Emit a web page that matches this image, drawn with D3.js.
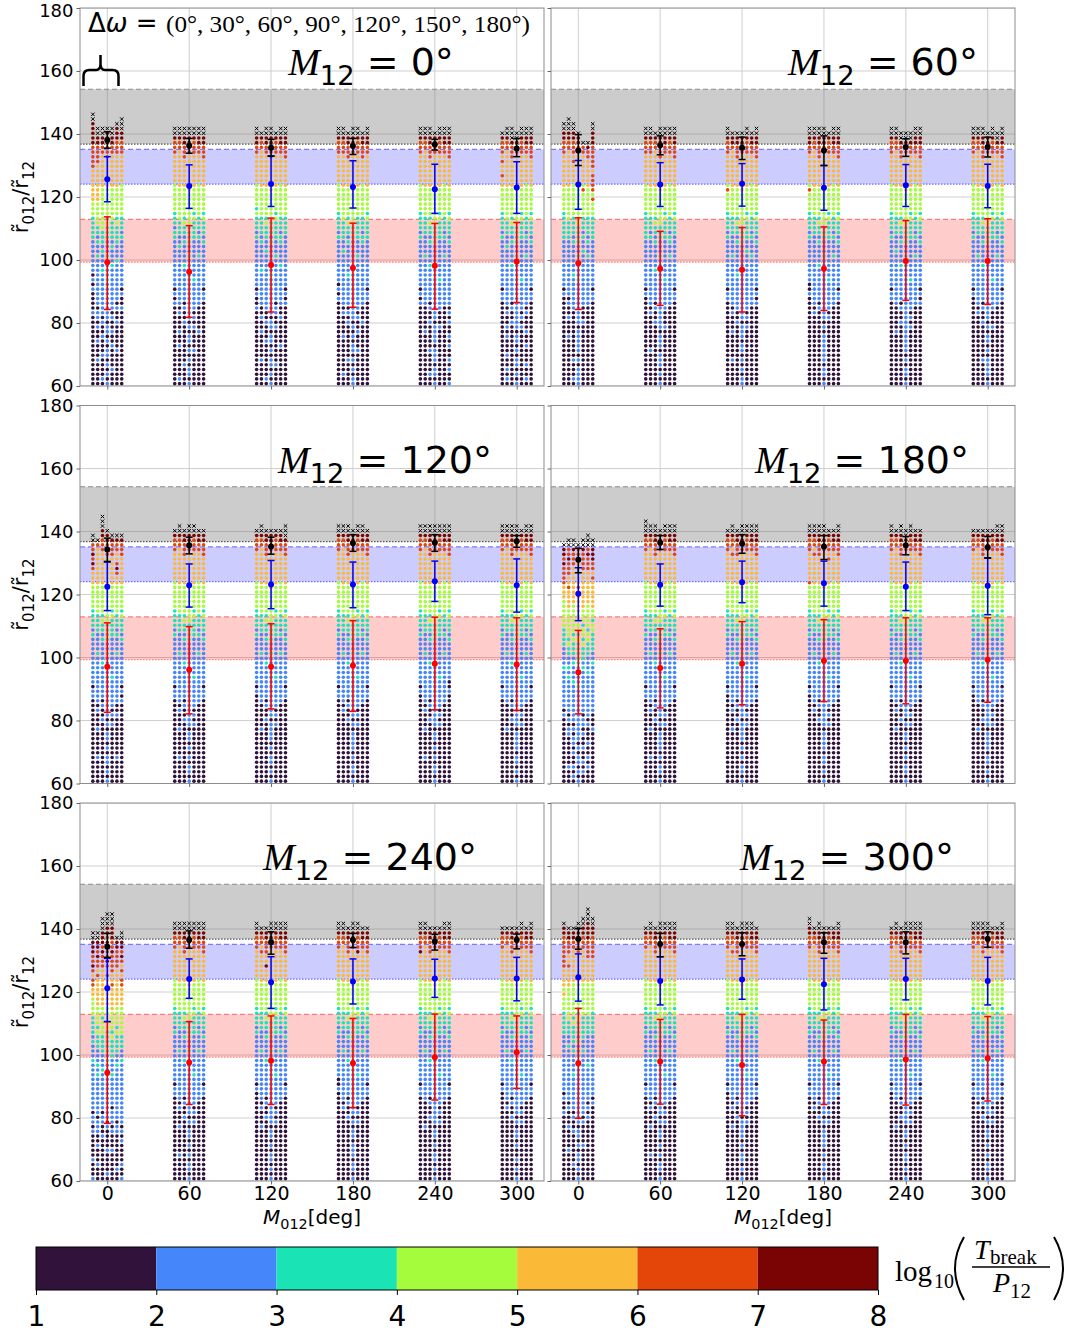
<!DOCTYPE html>
<html><head><meta charset="utf-8">
<script src="https://cdn.jsdelivr.net/npm/d3@7"></script>
<style>body{margin:0;background:#fff}svg{display:block}</style>
</head><body><script>
// ---------------- DATA ----------------
const panelM12 = [0, 60, 120, 180, 240, 300];
const groupM012 = [0, 60, 120, 180, 240, 300];
const deltaOmega = [0, 30, 60, 90, 120, 150, 180];
const yTicks = [60, 80, 100, 120, 140, 160, 180];
const cbTicks = [1, 2, 3, 4, 5, 6, 7, 8];
const rGrid = [60.75,62.25,63.75,65.25,66.75,68.25,69.75,71.25,72.75,74.25,
  75.75,77.25,78.75,80.25,81.75,83.25,84.75,86.25,87.75,89.25,
  90.75,92.25,93.75,95.25,96.75,98.25,99.75,101.25,102.75,104.25,
  105.75,107.25,108.75,110.25,111.75,113.25,114.75,116.25,117.75,119.25,
  120.75,122.25,123.75,125.25,126.75,128.25,129.75,131.25,132.75,134.25,
  135.75,137.25,138.75,140.25,141.75,143.25,144.75,146.25];
const grayBand = [136.8, 154.2];
const blueBand = [124.1, 135.1];
const redBand = [99.3, 112.9];
// colour class per row (bottom -> top), 0..6 = log10(Tbreak/P12) bins 1-2 ... 7-8, x = unstable
const cellsM0 = [
 ["0000000000 0000010000 1010111111 1222223334 4444445555 566666 xx",
  "0000010001 0010110111 1111111211 2122333334 4444444555 566 xx",
  "0100001000 1001011111 1111211121 2223333333 3344444445 566 xx",
  "1010101101 0110111111 1121111211 1222323333 3344444455 5666 x",
  "0001000010 0100101111 1111121112 1222233333 3344444445 566 xx",
  "0000000100 0001001011 1111112111 2222323333 3344444445 55666 x",
  "0000000000 0000001001 0111111111 1212223333 3334444445 5566 xxx"],
 ["0000000000 0000000101 0111111111 1221222333 3334444445 556 xx",
  "0100000010 0100010111 1111111112 1122233333 3344444444 556 xx",
  "0000100000 0001001011 1111121111 2122323333 3344444455 566 xx",
  "1011010101 1010111111 1111111211 2222333333 3444444445 566 xx",
  "0000000100 0010101111 1121111111 1222232333 3344444445 556 xx",
  "0000000000 0100000111 1111111211 1212223333 3334444445 566 xx",
  "0000000000 0000000011 0111111111 2122232333 3344444455 566 xx"],
 ["0000000000 0000001001 0111111111 1212223233 3334444445 566 xx",
  "0000010000 0100100111 1111211111 2122223333 3344444444 556 x",
  "0100000001 0001001111 1111111121 1222323333 3344444445 566 xx",
  "1010110101 1011011111 1112111111 2122233333 3444444455 566 xx",
  "0000100000 0010011011 1111111211 1222232333 3344444445 556 x",
  "0000000010 0000100111 1111121111 2212223333 3334444445 566 xx",
  "0000000000 0000000101 0111111111 1122223333 3344444455 566 xx"],
 ["0000000000 0000000010 1011111111 1212222333 3334444445 556 xx",
  "0010000000 1000010111 1111111121 1222233333 3344444445 556 xx",
  "0000010000 0001010111 1112111111 2122323333 3344444455 566 x",
  "1101010110 1010111111 1111211111 1222333333 3444444445 566 xx",
  "0000000100 0100101111 1111111211 1222223333 3344444445 556 xx",
  "0000000000 0001000111 1111111111 2212223333 3334444455 566 x",
  "0000000000 0000000011 0111111111 1222232333 3344444445 566 xx"],
 ["0000000000 0000000101 0111111111 1212222333 3334444445 556 xx",
  "0000000000 0100000111 1111111211 1122223333 3344444444 556 xx",
  "0010000100 0001001011 1111121111 2122323333 3344444455 566 xx",
  "1011011101 1110111111 1111111111 2222333333 3444444445 566 x",
  "0000000000 0010001111 1121111111 1222232333 3344444445 556 xx",
  "0000000000 0000000111 1111111211 1212223333 3334444445 566 xx",
  "1001010010 1001010111 1111111111 2122232333 3344444455 566 xx"],
 ["0000000000 0000000011 0111111111 1212222333 3344544545 556 x",
  "0101001000 1010010111 1111111112 1122233333 3344444444 556 xx",
  "0000000000 0001001011 1111121111 2122323333 3344444455 56 xxx",
  "1010110101 1011111111 1111111211 2222333333 3444444445 56 xx",
  "0000000000 0010101111 1121111111 1222232333 3344444445 556 xx",
  "0100100010 0100010111 1111111211 1212223333 3334444445 566 xx",
  "0000000000 0000000011 0111111111 2122232333 3344444455 566 xx"]
];
const cellsM60 = [
 ["0000000000 0000000001 0111111111 1222222333 3344444445 5566 xx",
  "0000000000 1000100101 1111111111 1222233333 3344444444 5566 xxx",
  "0100010000 0000001111 1112111111 2122223333 3334444545 5566 xx",
  "1111010111 1101111111 1121111211 2222333333 3344444445 566 x",
  "0000000000 0001000111 1111111121 1212223333 3534444445 5 x",
  "0000000000 0000000111 1111111211 2122223333 3344444455 6 x",
  "0000000000 0000000011 0111111111 1222223335 3555545555 5666 xx"],
 ["0000000000 0000000001 0111111111 1222222333 3334444445 556 xx",
  "0000000100 0000010111 1111111111 1212223333 3344444445 556 xx",
  "0000000000 0001001011 1111211111 2122323333 3344444444 556 x",
  "1010111011 1011111111 1111111211 1222333333 3444444455 566 xx",
  "0000000000 0010001111 1121111111 1222232333 3344444445 566 xx",
  "0000000000 0000000111 1111111211 2212223333 3334444445 556 xx",
  "0000000000 0000000011 0111111111 1122232333 3344444455 566 xx"],
 ["0000000000 0000000011 0111111111 1212222333 3534444445 556 xx",
  "0000010000 0100010111 1111111211 1122223333 3344444444 566 x",
  "0000000000 0001001111 1112111111 2122323333 3344444455 566 x",
  "1101010110 1110111111 1111111111 2222333333 3444444445 566 x",
  "0000000000 0010101111 1111111121 1222232333 3344444445 556 xx",
  "0000000000 0000000111 1111111211 1212223333 3334444445 566 x",
  "0000000000 0000000101 0111111111 2122232333 3344444455 566 xx"],
 ["0000000000 0000000001 0011111111 1212222333 3534444445 566 xx",
  "0000000000 0000010111 1111111111 1122223333 3344444444 556 xx",
  "0000000000 0000001011 1111121111 2122323333 3344444455 566 xx",
  "1011011111 1010111111 1111111211 1222333333 3444444445 566 xx",
  "0000000000 0000101111 1121111111 1222232333 3344444445 556 x",
  "0000000000 0000000111 1111111211 1212223333 3334444445 566 xx",
  "0000000000 0000000011 0111111111 2122232333 3344444455 566 xx"],
 ["0000000000 0000000011 0111111111 1212222333 3334444445 556 xx",
  "0000000000 0100000111 1111111121 1122223333 3344444444 556 xx",
  "0000000000 0001001011 1111121111 2122323333 3344444455 56 xx",
  "1011010111 1111111111 1111111211 2222333333 3444444445 56 xx",
  "0000000000 0010101111 1121111111 1222232333 3344444445 56 xx",
  "0000000000 0000000111 1111111211 1212223333 3334444445 566 xx",
  "0000000000 0000000101 0111111111 2122232333 3344444455 566 xx"],
 ["0000000000 0000000001 0111111111 1212222333 3334444445 556 xx",
  "0000000000 0000010111 1111111211 1122223333 3344444444 556 xx",
  "0000010000 0001001011 1111121111 2122323333 3344444455 566 xx",
  "1011110101 1010111111 1111111111 2222333333 3444444445 566 x",
  "0000000000 0010001111 1121111111 1222232333 3344444445 556 xx",
  "0000000000 0000000111 1111111211 1212223333 3334444445 56 xx",
  "0000000000 0000000011 0111111111 2122232333 3344444455 566 xx"]
];
const cellsM120 = [
 ["0000000000 0000000011 0111111111 1212222333 3344456565 5 xx",
  "0000010000 0100010111 1111111211 1122223333 3344444444 5 x",
  "0000000000 0001001011 1111121111 2122323333 3344444445 5566 xxx",
  "1010110101 1010111111 1111111211 2222333333 3444444455 566 x",
  "0000000000 0010101111 1121111111 1222232333 3344444455 56 x",
  "0000010000 0000100111 1111111211 1212223333 3344565445 56 x",
  "0000000000 0000000101 0111111111 2122232333 3344444455 56 x"],
 ["0000000000 0000000011 0111111111 1212222333 3334444445 556 x",
  "0000010000 0100010111 1111111211 1122223333 3344444444 556 xx",
  "0000000000 0001001011 1111121111 2122323333 3344444455 566 x",
  "1011010101 1011111111 1111111111 2222333333 3444444445 566 xx",
  "0000000000 0010101111 1121111111 1222232333 3344444445 556 xx",
  "0000000000 0000000111 1111111211 1212223333 3334444445 566 x",
  "0000000000 0000000011 0111111111 2122232333 3344444455 566 x"],
 ["0000000000 0000000001 0111111111 1212222333 3334444445 556 x",
  "0000000000 0100000111 1111111211 1122223333 3344444444 556 xx",
  "0000000000 0001001011 1111121111 2122323333 3344444455 566 x",
  "1010110101 1110111111 1111111211 2222333333 3444444445 566 x",
  "0000000000 0010101111 1121111111 1222232333 3344444445 556 x",
  "0000000000 0000000111 1111111211 1212223333 3334444445 566 x",
  "0000000000 0000000011 0111111111 2122232333 3344444455 56 xxx"],
 ["0000000000 0000000011 0111111111 1212222333 3334444445 556 xx",
  "0000000000 0000010111 1111111211 1122223333 3344444444 556 xx",
  "0000000000 0001001011 1111121111 2122323333 3344444455 566 xx",
  "1011010111 1010111111 1111111211 2222333333 3444444445 566 x",
  "0000000000 0010101111 1121111111 1222232333 3344444445 556 xx",
  "0000000000 0000000111 1111111211 1212223333 3334444445 566 xx",
  "0000000000 0000000011 0111111111 2122232333 3344444455 566 x"],
 ["0000000000 0000000001 0111111111 1212222333 3334444445 556 xx",
  "0000010000 0100010111 1111111211 1122223333 3344444444 556 xx",
  "0000000000 0001001011 1111121111 2122323333 3344444455 566 xx",
  "1011010101 1011111111 1111111111 2222333333 3444444445 566 xx",
  "0000000000 0010101111 1121111111 1222232333 3344444445 556 xx",
  "0000000000 0000000111 1111111211 1212223333 3334444445 566 xx",
  "0000000000 0000000001 0011111111 2122232333 3344444455 566 xx"],
 ["0000000000 0000000011 0111111111 1212222333 3334444445 556 xx",
  "0000000000 0100000111 1111111211 1122223333 3344444444 556 xx",
  "0000000000 0001001011 1111121111 2122323333 3344444455 566 xx",
  "1010110111 1011111111 1111111211 2222333333 3444444445 566 xx",
  "0000000000 0010101111 1121111111 1222232333 3344444445 556 x",
  "0000000000 0000000111 1111111211 1212223333 3334444445 566 xx",
  "0000000000 0000000011 0111111111 2122232333 3344444455 566 xx"]
];
const cellsM180 = [
 ["0000000000 0000101111 1111211112 2223333334 4455556566 x",
  "0001000000 1101011111 1121211223 2333333444 4544555655 xx",
  "0101001011 0101111111 1211121222 3233333344 4444445556 xx",
  "1010110101 1111111111 2111122222 3233334444 4544444555 x",
  "0010100100 1011011111 1111212223 2332333444 4444455556 xx",
  "0001010010 0010111111 1112111222 3323333344 4444455565 xxx",
  "0000000000 0100011111 1111121122 2233233444 4445455666 xx"],
 ["0000000000 0000000011 0111111111 1212222333 3334444445 556 xxx",
  "0000010000 0100010111 1111111211 1122223333 3344444444 556 xx",
  "0000000000 0001001011 1111121111 2122323333 3344444455 566 xx",
  "1011010111 1010111111 1111111211 2222333333 3444444445 566 x",
  "0000000000 0010101111 1121111111 1222232333 3344444445 556 xx",
  "0000000000 0000000111 1111111211 1212223333 3334444445 566 xx",
  "0000000000 0000000011 0111111111 2122232333 3344444455 566 xx"],
 ["0000000000 0000000001 0111111111 1212222333 3334444445 556 x",
  "0000000000 0100010111 1111111211 1122223333 3344444454 556 xx",
  "0000000000 0001001011 1111121111 2122323333 3344444455 566 x",
  "1011010101 1110111111 1111111211 2222333333 3444444445 566 xx",
  "0000000000 0010101111 1121111111 1222232333 3344444445 556 xx",
  "0000000000 0000000111 1111111211 1212223333 3334444445 566 xx",
  "0000000000 0000000011 0111111111 2122232333 3344444455 566 xx"],
 ["0000000000 0000000001 0111111111 1212222333 3354444445 556 xx",
  "0000000000 0000010111 1111111211 1122223333 3344444454 556 xx",
  "0000000000 0001001011 1111121111 2122323333 3344444455 566 xx",
  "1010110111 1011111111 1111111211 2222333333 3444444445 566 xx",
  "0000000000 0010101111 1121111111 1222232333 3344444545 556 x",
  "0000000000 0000000111 1111111211 1212223333 3334444445 566 x",
  "0000000000 0000000011 0111111111 2122232333 3344444455 566 xx"],
 ["0000000000 0000000011 0111111111 1212222333 3334444445 556 xx",
  "0000000000 0100010111 1111111211 1122223333 3344444444 556 x",
  "0000000000 0001001011 1111121111 2122323333 3344444455 566 xx",
  "1011010101 1010111111 1111111211 2222333333 3444444445 56 xx",
  "0000000000 0010101111 1121111111 1222232333 3344444445 556 xx",
  "0000000000 0000000111 1111111211 1212223333 3334444445 566 x",
  "0000000000 0000000011 0111111111 2122232333 3344444455 566 x"],
 ["0000000000 0000000001 0111111111 1212222333 3334444445 556 x",
  "0000000000 0100000111 1111111211 1122223333 3344444444 556 x",
  "0000000000 0001001011 1111121111 2122323333 3344444455 566 x",
  "1010110111 1011111111 1111111211 2222333333 3444444445 566 x",
  "0000000000 0010101111 1121111111 1222232333 3344444445 556 x",
  "0000000000 0000000111 1111111211 1212223333 3334444445 566 xx",
  "0000000000 0000000011 0111111111 2122232333 3344444455 566 xx"]
];
const cellsM240 = [
 ["1000100000 1011011111 1111121112 1222233334 4554565566 6 xx",
  "0001000100 1110111111 1121211122 2323333444 4445455656 6 xx",
  "0000000001 0011011111 1112111222 2333233444 4444455565 666 xxx",
  "0100001000 0101111111 1111121222 2233333444 4445456556 6566 xxx",
  "0000001000 1011101111 1121112222 3233334444 4544555565 5666 xxx",
  "0010000000 1101111111 1111211222 2323333444 4444455556 6 x",
  "1001000010 1011111111 1111121122 2333333444 4554545656 6 xx"],
 ["0000000000 0000000011 0111111111 1212222333 3334444445 556 xx",
  "0000010000 0100010111 1111111211 1122223333 3344444444 556 xx",
  "0000000000 0001001011 1111121111 2122323333 3344444455 566 xx",
  "1011010101 1010111111 1111111211 2222333333 3444444445 566 xx",
  "0000000000 0010101111 1121111111 1222232333 3344444445 556 xx",
  "0000000000 0000000111 1111111211 1212223333 3334444445 566 xx",
  "0000000000 0000000011 0111111111 2122232333 3344444455 566 xx"],
 ["0000000000 0000000001 0111111111 1212222333 3334444445 556 xx",
  "0000000000 0100010111 1111111211 1122223333 3344444454 556 x",
  "0000000000 0001001011 1111121111 2122323333 3344464455 566 x",
  "1010110101 1011111111 1111111211 2222333333 3444444445 566 xx",
  "0000000000 0010101111 1121111111 1222232333 3344444445 556 xx",
  "0000000000 0000000111 1111111211 1212223333 3334444445 566 xx",
  "0000000000 0000000011 0111111111 2122232333 3344444455 566 xx"],
 ["0000000000 0000000001 0011111111 1212222333 3334444445 556 xx",
  "0000000000 0000010111 1111111211 1122223333 3344444444 556 xx",
  "0000000000 0001001011 1111121111 2122323333 3344444455 566 x",
  "1011011101 1010111111 1111111211 2222333333 3444444445 566 xx",
  "0000000000 0010101111 1121111111 1222232333 3344444465 556 xx",
  "0000000000 0000000111 1111111211 1212223333 3334444445 566 x",
  "0000000000 0000000011 0111111111 2122232333 3344444455 566 x"],
 ["0000000000 0000000011 0111111111 1212222333 3334444465 556 xx",
  "0000000000 0100000111 1111111211 1122223333 3344444444 556 xx",
  "0000000000 0001001011 1111121111 2122323333 3344444455 566 x",
  "1010110101 1011111111 1111111211 2222333333 3444444445 566 x",
  "0000000000 0010101111 1121111111 1222232333 3344444445 556 x",
  "0000000000 0000000111 1111111211 1212223333 3334444445 566 xx",
  "0000000000 0000000011 0111111111 2122232333 3344444455 566 xx"],
 ["0000000000 0000000001 0111111111 1212222333 3334444445 556 x",
  "0000000000 0000010111 1111111211 1122223333 3344444444 556 x",
  "0000000000 0001001011 1111121111 2122323333 3344444455 566 x",
  "1010100101 1010111111 1111111211 2222333333 3444444445 566 x",
  "0000000000 0010101111 1121111111 1222232333 3344444445 556 xx",
  "0000000000 0000000111 1111111211 1212223333 3334444445 566 x",
  "0000000000 0000000011 0111111111 2122232333 3344444455 566 xx"]
];
const cellsM300 = [
 ["0000000000 0000100101 1111111111 1222223334 3444455555 5566 x",
  "0000001000 0100010111 1111111121 1222333333 3444454455 566 x",
  "0001000000 1001011111 1121111212 2223233333 3344444445 566 x",
  "1010110101 1011111111 1111121112 1222323333 3444444455 566 xx",
  "0000000100 0010111111 1111111211 2222233333 3344444445 5566 xx",
  "0000000000 0001010111 1111211111 1222233333 3344444555 56666 xxx",
  "0000000000 0000001011 1111111111 1222223333 3344444555 5566 xx"],
 ["0000000000 0000000011 0111111111 1212222333 3334444445 556 x",
  "0000010000 0100010111 1111111211 1122223333 3344444444 556 xx",
  "0000000000 0001001011 1111121111 2122323333 3344444455 566 x",
  "1011010101 1010111111 1111111211 2222333333 3444444445 566 xx",
  "0000000000 0010101111 1121111111 1222232333 3344444445 556 xx",
  "0000000000 0000000111 1111111211 1212223333 3334444445 566 xx",
  "0000000000 0000000011 0111111111 2122232333 3344444455 566 xx"],
 ["0000000000 0000000001 0111111111 1212222333 3334444445 556 xx",
  "0000000000 0100010111 1111111211 1122223333 3344444454 556 xx",
  "0000000000 0001001011 1111121111 2122323333 3344444455 566 x",
  "1010110101 1110111111 1111111211 2222333333 3444444445 566 xx",
  "0000000000 0010101111 1121111111 1222232333 3344444445 556 xx",
  "0000000000 0000000111 1111111211 1212223333 3334444445 566 xx",
  "0000000000 0000000011 0111111111 2122232333 3344444455 566 x"],
 ["0000000000 0000000011 0111111111 1212222333 3334444445 5566 xx",
  "0000000000 0000010111 1111111211 1122223333 3344444444 556 x",
  "0000000000 0001001011 1111121111 2122323333 3344444455 566 xx",
  "1011010111 1010111111 1111111211 2222333333 3444444445 566 x",
  "0000000000 0010101111 1121111111 1222232333 3344444445 556 x",
  "0000000000 0000000111 1111111211 1212223333 3334444445 566 x",
  "0000000000 0000000011 0111111111 2122232333 3344444455 566 xx"],
 ["0000000000 0000000001 0111111111 1212222333 3334444445 556 x",
  "0000000000 0100000111 1111111211 1122223333 3344444444 556 xx",
  "0000000000 0001001011 1111121111 2122323333 3344444455 566 x",
  "1010110101 1011111111 1111111211 2222333333 3444444445 566 xx",
  "0000000000 0010101111 1121111111 1222232333 3344444445 556 xx",
  "0000000000 0000000111 1111111211 1212223333 3334444445 566 xx",
  "0000000000 0000000011 0111111111 2122232333 3344444455 566 xx"],
 ["0000000000 0000000011 0111111111 1212222333 3334444445 556 xx",
  "0000000000 0000010111 1111111211 1122223333 3344444444 556 xx",
  "0000000000 0001001011 1111121111 2122323333 3344444455 566 xx",
  "1011010101 1010111111 1111111211 2222333333 3444444445 566 xx",
  "0000000000 0010101111 1121111111 1222232333 3344444445 556 x",
  "0000000000 0000000111 1111111211 1212223333 3334444445 566 x",
  "0000000000 0000000011 0111111111 2122232333 3344444455 566 xx"]
];
const cellsByPanel = [cellsM0, cellsM60, cellsM120, cellsM180, cellsM240, cellsM300];

// error bars per panel (rows) and group (cols)
const blackMean = [[138.1,136.3,135.6,136.2,136.7,135.4],[134.8,136.4,135.6,134.8,135.9,135.9],[134.3,135.6,135.2,136.3,136.4,136.9],[131.0,136.4,136.1,135.2,135.6,135.0],[134.4,136.5,135.8,136.5,136.0,136.5],[136.8,135.2,135.2,135.8,135.8,136.8]];
const blackLo = [[135.5,133.9,133.0,133.5,134.9,132.8],[130.0,133.4,131.9,130.0,132.9,132.7],[130.5,132.9,132.8,133.7,133.7,135.0],[126.9,134.3,133.1,131.1,132.6,131.6],[131.0,133.9,132.0,134.1,133.3,133.7],[133.6,131.2,131.5,132.3,132.1,134.2]];
const blackHi = [[140.7,138.6,138.3,138.6,138.3,138.6],[139.8,139.4,139.0,139.4,138.5,139.0],[137.9,138.2,138.2,139.0,139.0,138.7],[134.7,138.7,139.0,138.7,138.4,138.4],[138.6,139.4,139.1,138.6,138.3,138.4],[140.2,138.6,138.8,138.8,139.1,139.1]];
const blueMean = [[125.6,123.5,124.1,123.2,122.5,123.0],[124.0,124.0,124.2,122.9,123.7,123.5],[122.5,122.9,123.2,123.2,124.2,122.9],[120.2,123.1,123.9,123.6,122.5,122.8],[121.2,124.1,123.1,123.3,124.3,124.3],[124.7,123.5,124.0,122.5,124.1,123.5]];
const blueLo = [[118.5,116.4,117.0,116.5,114.8,114.8],[116.1,117.0,117.1,115.8,117.0,116.6],[114.9,116.0,115.5,115.8,117.8,114.4],[111.7,116.3,117.4,116.3,114.9,113.6],[110.6,118.0,114.8,116.2,118.3,117.2],[117.1,115.9,117.7,114.3,117.5,115.9]];
const blueHi = [[132.8,130.2,133.0,131.5,130.4,131.2],[131.6,130.9,130.6,130.0,130.3,130.4],[130.3,129.7,130.8,130.3,130.6,131.3],[128.5,129.7,130.6,130.6,130.3,131.6],[130.7,130.5,131.2,130.5,130.4,131.0],[132.1,131.2,130.5,130.7,130.7,131.0]];
const redMean = [[99.3,96.3,98.4,97.5,98.2,99.5],[99.0,97.2,96.9,97.2,99.7,99.7],[97.1,96.1,97.1,97.5,98.0,97.8],[95.3,96.7,98.0,99.0,99.0,99.3],[94.4,97.6,98.2,97.4,99.3,100.9],[97.4,97.9,96.8,97.9,98.6,99.0]];
const redLo = [[84.3,81.8,83.5,85.0,84.4,86.5],[84.3,85.6,83.5,84.0,87.2,85.9],[82.6,82.1,83.7,82.9,83.4,83.2],[82.1,84.0,85.0,86.0,85.3,85.8],[78.3,84.3,84.3,83.3,85.7,89.4],[79.9,84.4,80.7,84.3,84.1,85.4]];
const redHi = [[113.7,110.9,113.3,111.7,111.6,111.9],[113.4,109.1,110.3,110.5,112.5,113.1],[111.0,109.8,110.7,111.7,112.8,112.6],[108.6,109.1,111.4,112.0,112.6,112.6],[110.6,110.6,112.4,111.6,113.0,112.4],[114.8,111.3,112.9,111.1,112.9,112.2]];

// ---------------- STYLE / LAYOUT ----------------
const classColors = ["#30123b","#4686fb","#1ae4b6","#a4fc3c","#fbb938","#e4460a","#7a0403"];
const W = 1071, H = 1336;
const colLeft = [80, 551], panelW = 464;
const rowTop = [8, 405.5, 803], panelH = 378;
const titleX = [371, 883, 385, 862, 370, 847];
const SANS = "DejaVu Sans", SERIF = "Liberation Serif";

const svg = d3.select("body").append("svg").attr("width", W).attr("height", H)
  .attr("font-family", SANS);

function rich(parent, x, y, parts, size, anchor, family) {
  const t = parent.append("text").attr("x", x).attr("y", y)
    .attr("font-size", size).attr("text-anchor", anchor || "start")
    .attr("font-family", family || SANS).attr("fill", "#000");
  let cur = 0;
  parts.forEach(p => {
    const ts = t.append("tspan").text(p.t);
    const shift = p.sub ? size * 0.27 : 0;
    if (shift !== cur) { ts.attr("dy", shift - cur); cur = shift; }
    if (p.sub) ts.attr("font-size", size * 0.72);
    if (p.it) ts.attr("font-style", "italic");
    if (p.fam) ts.attr("font-family", p.fam);
  });
  return t;
}

panelM12.forEach((M, pi) => {
  const c = pi % 2, r = Math.floor(pi / 2);
  const x0 = colLeft[c], y0 = rowTop[r];
  const x = d3.scaleLinear().domain([-20, 320]).range([x0, x0 + panelW]);
  const y = d3.scaleLinear().domain([60, 180]).range([y0 + panelH, y0]);
  const g = svg.append("g");
  const clipId = "clip" + pi;
  g.append("clipPath").attr("id", clipId).append("rect")
    .attr("x", x0).attr("y", y0).attr("width", panelW).attr("height", panelH);
  const body = g.append("g").attr("clip-path", `url(#${clipId})`);

  // grid
  body.selectAll(".gy").data(yTicks).join("line")
    .attr("x1", x0).attr("x2", x0 + panelW).attr("y1", d => y(d)).attr("y2", d => y(d))
    .attr("stroke", "#cfcfcf").attr("stroke-width", 1);
  body.selectAll(".gx").data(groupM012).join("line")
    .attr("x1", d => x(d)).attr("x2", d => x(d)).attr("y1", y0).attr("y2", y0 + panelH)
    .attr("stroke", "#cfcfcf").attr("stroke-width", 1);

  // bands
  const bands = [
    {b: grayBand, fill: "#808080", op: 0.4, top: "#8a8a8a", bot: "#555"},
    {b: blueBand, fill: "#0000ff", op: 0.2, top: "#7b7bff", bot: "#6a6aff"},
    {b: redBand, fill: "#ff0000", op: 0.2, top: "#ff7b7b", bot: "#ff8080"}
  ];
  bands.forEach(bd => {
    body.append("rect").attr("x", x0).attr("width", panelW)
      .attr("y", y(bd.b[1])).attr("height", y(bd.b[0]) - y(bd.b[1]))
      .attr("fill", bd.fill).attr("fill-opacity", bd.op);
    body.append("line").attr("x1", x0).attr("x2", x0 + panelW)
      .attr("y1", y(bd.b[1])).attr("y2", y(bd.b[1]))
      .attr("stroke", bd.top).attr("stroke-width", 1.2).attr("stroke-dasharray", "5,3");
    body.append("line").attr("x1", x0).attr("x2", x0 + panelW)
      .attr("y1", y(bd.b[0])).attr("y2", y(bd.b[0]))
      .attr("stroke", bd.bot).attr("stroke-width", 1.2).attr("stroke-dasharray", "1.5,1.5");
  });

  // dots
  const dots = [], crosses = [];
  cellsByPanel[pi].forEach((grp, gi) => {
    grp.forEach((str, j) => {
      const s = str.replace(/ /g, "");
      const xm = groupM012[gi] + (deltaOmega[j] - 90) * 0.1175;
      for (let k = 0; k < s.length; k++) {
        const ch = s[k];
        if (ch === "x") crosses.push({xv: xm, r: rGrid[k]});
        else if (ch >= "0" && ch <= "6") dots.push({xv: xm, r: rGrid[k], cl: +ch});
      }
    });
  });
  body.append("g").selectAll("circle").data(dots).join("circle")
    .attr("cx", d => x(d.xv)).attr("cy", d => y(d.r)).attr("r", 1.8)
    .attr("fill", d => classColors[d.cl]);
  body.append("g").selectAll("path").data(crosses).join("path")
    .attr("transform", d => `translate(${x(d.xv)},${y(d.r)})`)
    .attr("d", "M-1.7,-1.7L1.7,1.7M-1.7,1.7L1.7,-1.7")
    .attr("stroke", "#000").attr("stroke-width", 1);

  // error bars
  const ebs = [
    {m: redMean, lo: redLo, hi: redHi, col: "#ff0000"},
    {m: blueMean, lo: blueLo, hi: blueHi, col: "#0000ff"},
    {m: blackMean, lo: blackLo, hi: blackHi, col: "#000000"}
  ];
  ebs.forEach(e => {
    groupM012.forEach((gm, gi) => {
      const cx = x(gm);
      const eg = body.append("g").attr("stroke", e.col).attr("stroke-width", 1.5);
      eg.append("line").attr("x1", cx).attr("x2", cx)
        .attr("y1", y(e.lo[pi][gi])).attr("y2", y(e.hi[pi][gi]));
      [e.lo[pi][gi], e.hi[pi][gi]].forEach(v => eg.append("line")
        .attr("x1", cx - 3.5).attr("x2", cx + 3.5).attr("y1", y(v)).attr("y2", y(v)));
      body.append("circle").attr("cx", cx).attr("cy", y(e.m[pi][gi])).attr("r", 3)
        .attr("fill", e.col);
    });
  });

  // frame
  g.append("rect").attr("x", x0).attr("y", y0).attr("width", panelW).attr("height", panelH)
    .attr("fill", "none").attr("stroke", "#8c8c8c").attr("stroke-width", 1);

  // axes
  const ya = d3.axisLeft(y).tickValues(yTicks).tickSize(3.5).tickPadding(3);
  if (c === 1) ya.tickFormat("");
  const yg = g.append("g").attr("transform", `translate(${x0},0)`).call(ya);
  yg.select(".domain").remove();
  yg.selectAll("line").attr("stroke", "#666");
  yg.selectAll("text").attr("font-size", 18).attr("font-family", SANS).attr("fill", "#000");
  if (r === 0) yg.selectAll("text").filter(d => d === 180).attr("dy", "0.45em");

  const xa = d3.axisBottom(x).tickValues(groupM012).tickSize(3.5).tickPadding(2);
  if (r !== 2) xa.tickFormat("");
  const xg = g.append("g").attr("transform", `translate(0,${y0 + panelH})`).call(xa);
  xg.select(".domain").remove();
  xg.selectAll("line").attr("stroke", "#666");
  xg.selectAll("text").attr("font-size", 19).attr("font-family", SANS).attr("fill", "#000");

  // title
  rich(g, titleX[pi], y0 + 67, [{t: "M", it: true, fam: SERIF}, {t: "12", sub: true}, {t: " = " + M + "°"}], 38, "middle");

  // y label
  if (c === 0) {
    const yl = g.append("g").attr("transform", `translate(28,${y0 + panelH / 2}) rotate(-90)`);
    rich(yl, 0, 0, [{t: "r\u0303"}, {t: "012", sub: true}, {t: "/r\u0303"}, {t: "12", sub: true}], 21, "middle");
  }
  // x label
  if (r === 2) {
    rich(g, x0 + panelW / 2, 1224, [{t: "M", it: true}, {t: "012", sub: true}, {t: "[deg]"}], 20, "middle");
  }
});

// Delta omega annotation
rich(svg, 88, 32, [{t: "Δ"}, {t: "ω", it: true}, {t: " ="}], 26, "start");
svg.append("text").attr("x", 166).attr("y", 32).attr("font-family", SERIF)
  .attr("font-size", 24).attr("textLength", 364).attr("lengthAdjust", "spacingAndGlyphs")
  .text("(" + deltaOmega.map(d => d + "°").join(", ") + ")");
svg.append("path")
  .attr("d", "M83.5,86 L83.5,76 Q83.5,70 89.5,70 L96,70 Q100.5,70 100.5,64 L100.5,55 M100.5,64 Q100.5,70 105,70 L112.5,70 Q118.5,70 118.5,76 L118.5,86")
  .attr("fill", "none").attr("stroke", "#000").attr("stroke-width", 2.5);

// colour bar
const cb = d3.scaleLinear().domain([1, 8]).range([36, 878]);
const cbY = 1247, cbH = 43;
classColors.forEach((col, i) => {
  svg.append("rect").attr("x", cb(cbTicks[i])).attr("y", cbY)
    .attr("width", cb(cbTicks[i + 1]) - cb(cbTicks[i])).attr("height", cbH).attr("fill", col);
});
svg.append("rect").attr("x", cb(1)).attr("y", cbY).attr("width", cb(8) - cb(1)).attr("height", cbH)
  .attr("fill", "none").attr("stroke", "#000").attr("stroke-width", 1);
const cba = d3.axisBottom(cb).tickValues(cbTicks).tickFormat(d3.format("d")).tickSize(5).tickPadding(11);
const cbg = svg.append("g").attr("transform", `translate(0,${cbY + cbH})`).call(cba);
cbg.select(".domain").remove();
cbg.selectAll("text").attr("font-size", 28).attr("font-family", SANS).attr("fill", "#000");

// colour bar label
svg.append("text").attr("x", 895).attr("y", 1281).attr("font-family", SERIF).attr("font-size", 29).text("log");
svg.append("text").attr("x", 934).attr("y", 1288).attr("font-family", SERIF).attr("font-size", 20).text("10");
svg.append("path").attr("d", "M964,1237 Q946,1268 964,1300").attr("fill", "none").attr("stroke", "#000").attr("stroke-width", 2);
svg.append("path").attr("d", "M1054,1237 Q1072,1268 1054,1300").attr("fill", "none").attr("stroke", "#000").attr("stroke-width", 2);
svg.append("text").attr("x", 974).attr("y", 1259).attr("font-family", SERIF).attr("font-size", 28).attr("font-style", "italic").text("T");
svg.append("text").attr("x", 990).attr("y", 1264).attr("font-family", SERIF).attr("font-size", 21).text("break");
svg.append("line").attr("x1", 972).attr("x2", 1050).attr("y1", 1267).attr("y2", 1267).attr("stroke", "#000").attr("stroke-width", 1.5);
svg.append("text").attr("x", 993).attr("y", 1292).attr("font-family", SERIF).attr("font-size", 28).attr("font-style", "italic").text("P");
svg.append("text").attr("x", 1010).attr("y", 1298).attr("font-family", SERIF).attr("font-size", 21).text("12");
</script></body></html>
